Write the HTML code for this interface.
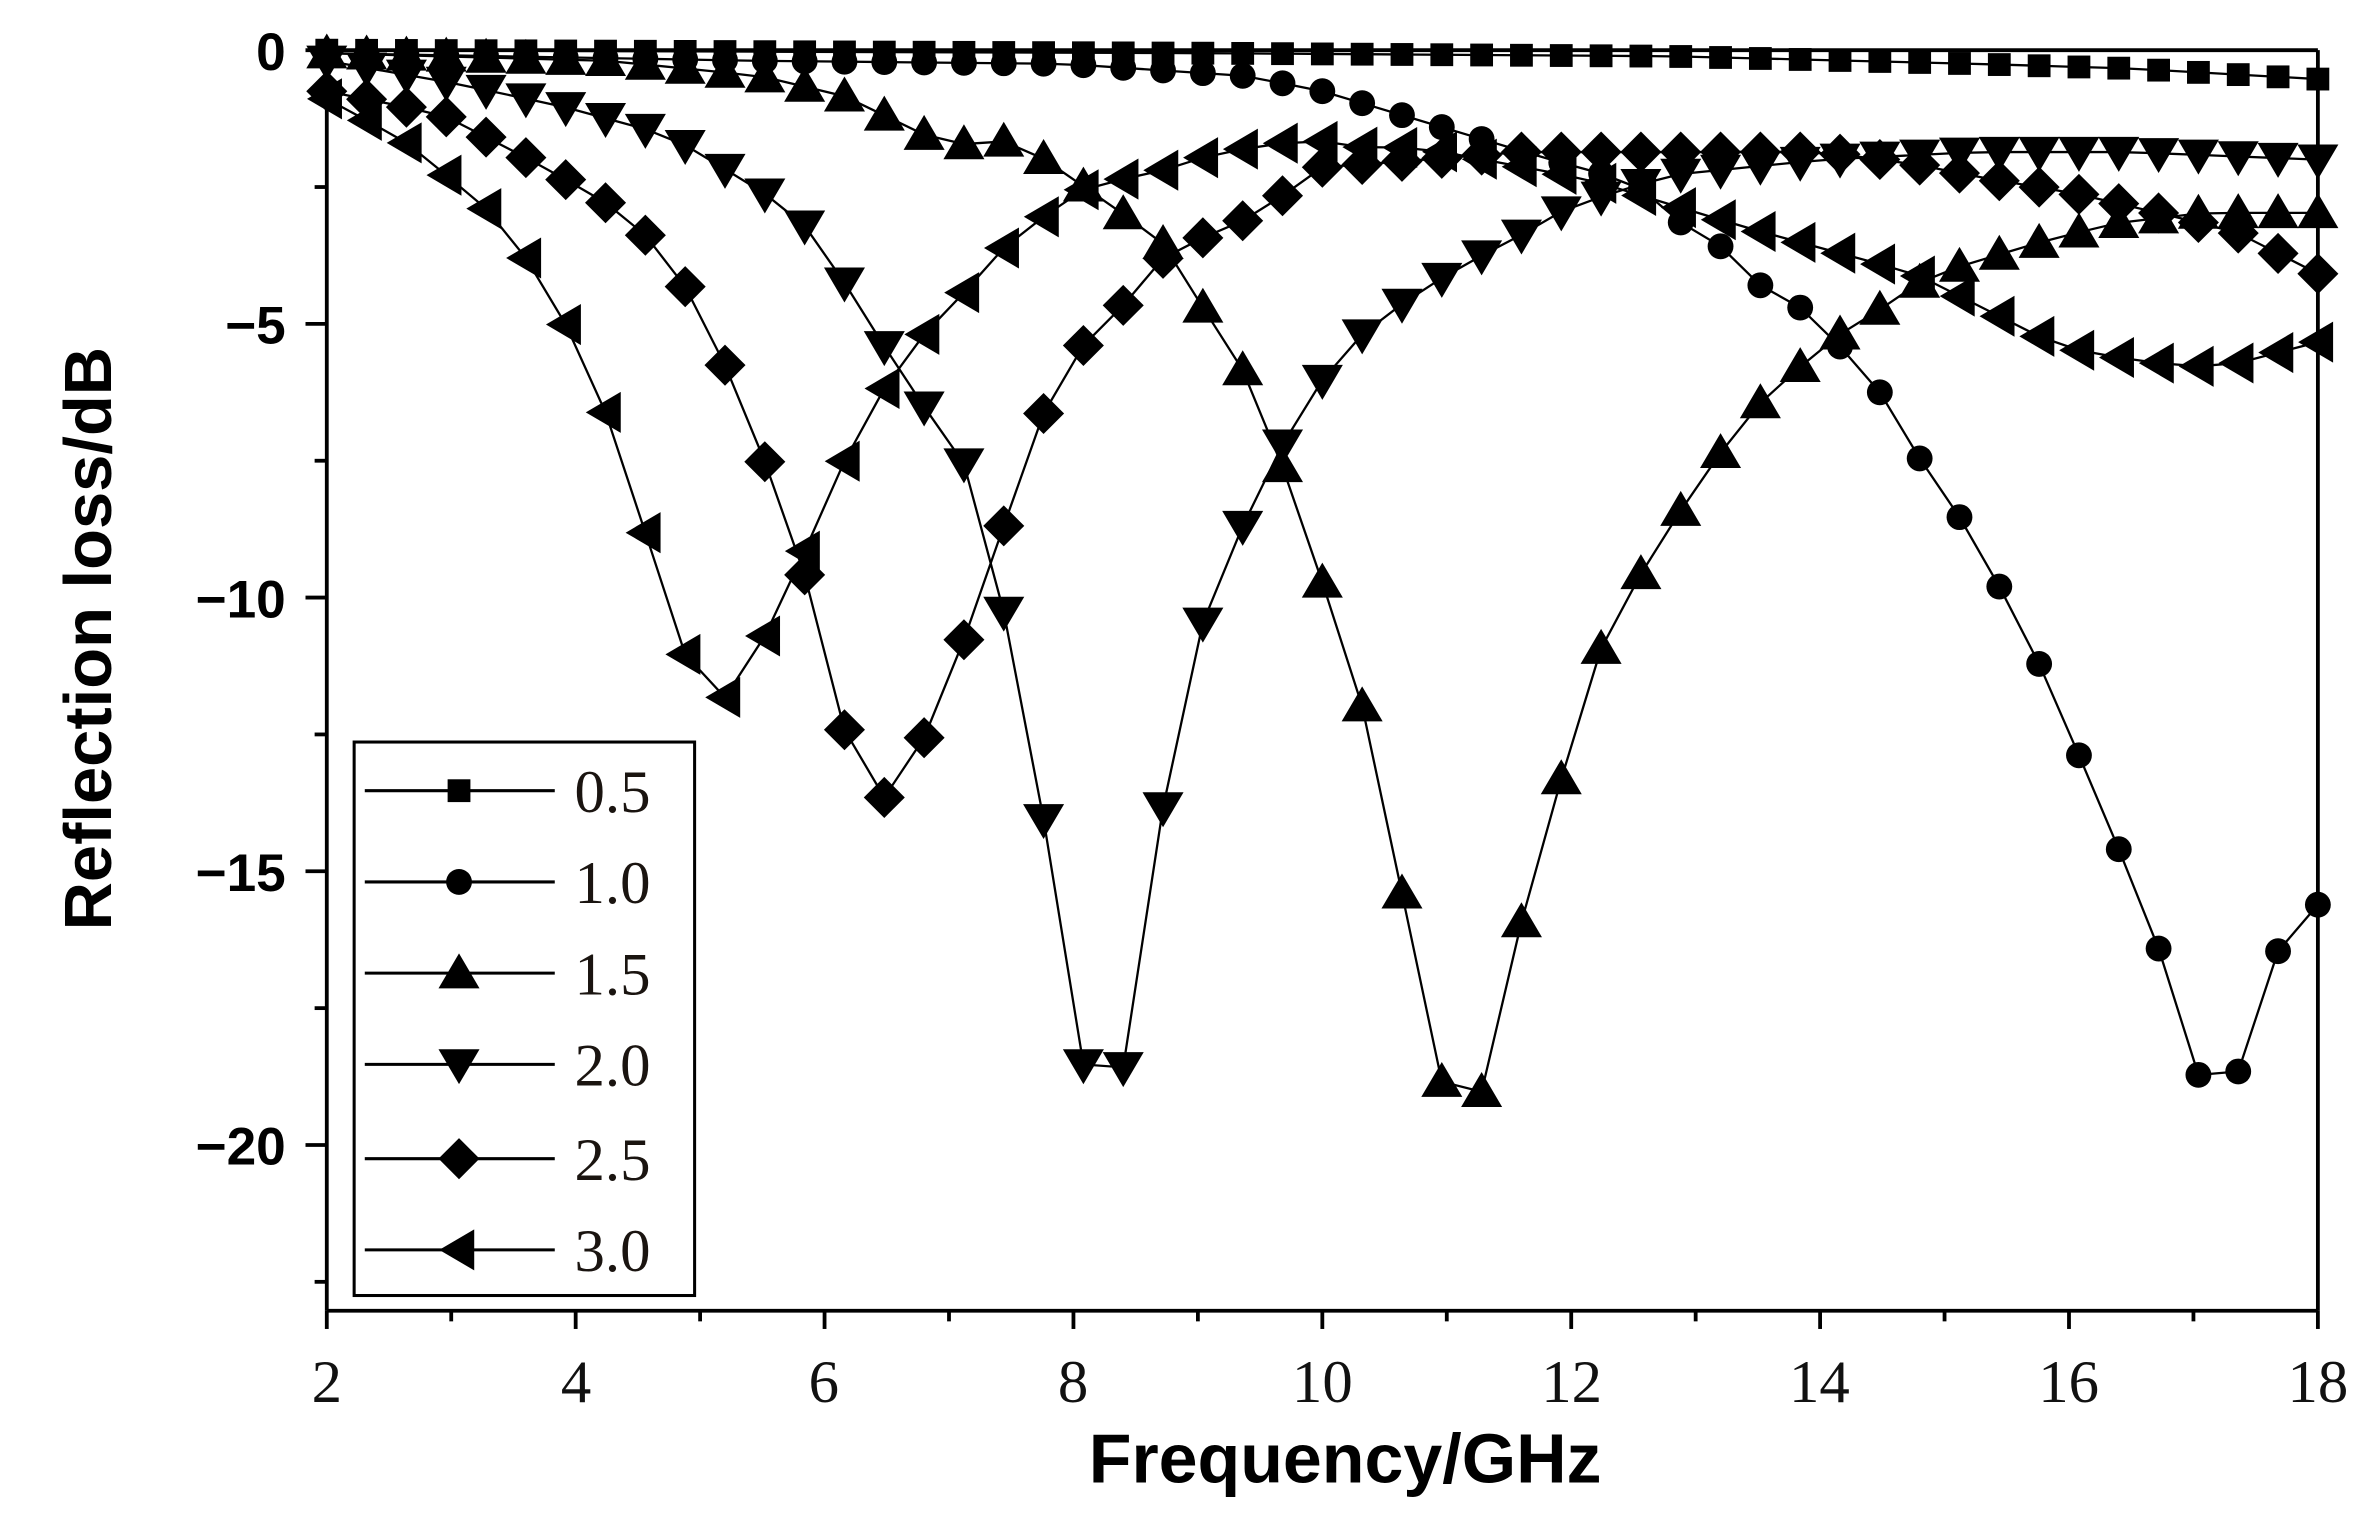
<!DOCTYPE html>
<html><head><meta charset="utf-8"><style>
html,body{margin:0;padding:0;background:#fff;}
svg{display:block;}
</style></head><body>
<svg id="s" width="2365" height="1516" viewBox="0 0 1556 997" preserveAspectRatio="none" xmlns="http://www.w3.org/2000/svg">
<rect x="0" y="0" width="1556" height="997" fill="#fff"/>
<g id="plot"></g>
<g id="axes" stroke="#000" stroke-width="2.5" fill="none">
<line x1="215" y1="33" x2="1525" y2="33"/>
<line x1="215" y1="33" x2="215" y2="862"/>
<line x1="1525" y1="33" x2="1525" y2="862"/>
<line x1="215" y1="862" x2="1525" y2="862"/>
</g>
<g id="ticks" stroke="#000" stroke-width="2.5"></g>
<g font-family="Liberation Sans, sans-serif" font-weight="bold" font-size="35" text-anchor="end" fill="#000">
<text x="188" y="46">0</text>
<text x="188" y="226">−5</text>
<text x="188" y="406">−10</text>
<text x="188" y="586">−15</text>
<text x="188" y="766">−20</text>
</g>
<g font-family="Liberation Serif, serif" font-size="40" text-anchor="middle" fill="#111">
<text x="215" y="922">2</text><text x="379" y="922">4</text><text x="542" y="922">6</text><text x="706" y="922">8</text>
<text x="870" y="922">10</text><text x="1034" y="922">12</text><text x="1197" y="922">14</text><text x="1361" y="922">16</text><text x="1525" y="922">18</text>
</g>
<text x="885" y="975" font-family="Liberation Sans, sans-serif" font-weight="bold" font-size="46" text-anchor="middle">Frequency/GHz</text>
<text transform="translate(73,420) rotate(-90)" font-family="Liberation Sans, sans-serif" font-weight="bold" font-size="44" text-anchor="middle">Reflection loss/dB</text>
<rect x="233" y="488" width="224" height="364" fill="#fff" stroke="#000" stroke-width="2"/>
<g id="legend"></g>
</svg>
<script>
var NS="http://www.w3.org/2000/svg";
function el(p,t,a){var e=document.createElementNS(NS,t);for(var k in a)e.setAttribute(k,a[k]);p.appendChild(e);return e;}
var ticks=document.getElementById('ticks');
for(var f=2;f<=18;f++){var x=215+81.875*(f-2);var L=(f%2==0)?12:7;el(ticks,'line',{x1:x,y1:862,x2:x,y2:862+L});}
for(var d=0;d>=-22.5;d-=2.5){var y=33-36*d;var L=(d%5==0)?14:8;el(ticks,'line',{x1:215,y1:y,x2:215-L,y2:y});}
var series=[
 ['sq',[[215,33],[800,35],[1100,37],[1300,42],[1400,45],[1525,52]]],
 ['ci',[[215,35],[500,40],[700,42],[820,50],[870,60],[920,75],[970,90],[1020,105],[1075,120],[1100,143],[1130,160],[1157,187],[1182,200],[1208,225],[1235,255],[1262,300],[1288,338],[1315,385],[1340,433],[1365,490],[1390,550],[1415,603],[1440,703],[1468,720],[1495,630],[1525,595]]],
 ['up',[[215,35],[400,40],[500,50],[555,63],[580,75],[606,88],[632,95],[658,92],[686,104],[712,122],[738,140],[765,160],[790,200],[818,244],[845,310],[870,383],[898,470],[925,600],[950,718],[975,718],[1000,610],[1025,520],[1050,433],[1078,380],[1103,340],[1128,303],[1155,268],[1180,245],[1207,222],[1232,207],[1260,187],[1290,175],[1340,160],[1390,147],[1450,140],[1525,140]]],
 ['dn',[[215,40],[300,55],[370,70],[425,85],[450,95],[500,125],[527,145],[555,185],[580,225],[606,265],[632,297],[658,390],[686,535],[712,700],[740,702],[765,532],[790,413],[818,345],[845,290],[870,250],[898,218],[925,198],[950,182],[975,168],[1000,155],[1025,140],[1060,127],[1100,115],[1200,105],[1300,100],[1400,100],[1525,105]]],
 ['di',[[215,60],[290,75],[343,102],[372,118],[398,133],[425,155],[450,187],[474,233],[500,295],[527,368],[552,473],[580,527],[606,490],[632,427],[660,347],[686,273],[712,228],[738,202],[765,170],[790,157],[818,145],[845,128],[870,110],[898,108],[950,104],[1000,100],[1100,100],[1200,100],[1260,108],[1310,118],[1360,126],[1420,140],[1470,152],[1525,180]]],
 ['le',[[215,65],[265,92],[318,135],[345,168],[372,213],[398,270],[423,345],[447,425],[474,463],[500,425],[527,368],[552,310],[580,258],[606,222],[632,195],[658,165],[686,143],[712,125],[738,118],[765,112],[790,104],[818,98],[845,94],[870,93],[898,97],[925,97],[950,100],[1045,118],[1150,150],[1260,180],[1355,228],[1410,238],[1460,242],[1525,225]]]
];
function interp(pts,x){for(var i=0;i<pts.length-1;i++){if(x>=pts[i][0]&&x<=pts[i+1][0]){var t=(x-pts[i][0])/(pts[i+1][0]-pts[i][0]);return pts[i][1]+t*(pts[i+1][1]-pts[i][1]);}}return pts[pts.length-1][1];}
function marker(p,type,x,y){
 if(type=='sq')el(p,'rect',{x:x-7.5,y:y-7.5,width:15,height:15,fill:'#000'});
 else if(type=='ci')el(p,'circle',{cx:x,cy:y,r:8.5,fill:'#000'});
 else if(type=='up')el(p,'polygon',{points:(x)+','+(y-13)+' '+(x-13.5)+','+(y+10)+' '+(x+13.5)+','+(y+10),fill:'#000'});
 else if(type=='dn')el(p,'polygon',{points:(x)+','+(y+13)+' '+(x-13.5)+','+(y-10)+' '+(x+13.5)+','+(y-10),fill:'#000'});
 else if(type=='di')el(p,'polygon',{points:x+','+(y-13.5)+' '+(x+13.5)+','+y+' '+x+','+(y+13.5)+' '+(x-13.5)+','+y,fill:'#000'});
 else if(type=='le')el(p,'polygon',{points:(x-13)+','+y+' '+(x+10)+','+(y-13.5)+' '+(x+10)+','+(y+13.5),fill:'#000'});
}
var plot=document.getElementById('plot');
series.forEach(function(s){
 var pts=[];for(var k=0;k<=50;k++){var x=215+26.2*k;if(x>1525)x=1525;pts.push([x,interp(s[1],x)]);}
 el(plot,'polyline',{points:pts.map(function(p){return p[0]+','+p[1]}).join(' '),fill:'none',stroke:'#000','stroke-width':1.5});
 pts.forEach(function(p){marker(plot,s[0],p[0],p[1]);});
});
var lg=document.getElementById('legend');
var labels=['0.5','1.0','1.5','2.0','2.5','3.0'];var ys=[520,580,640,700,762,822];
series.forEach(function(s,i){
 el(lg,'line',{x1:240,y1:ys[i],x2:365,y2:ys[i],stroke:'#000','stroke-width':2});
 marker(lg,s[0],302,ys[i]);
 var t=el(lg,'text',{x:378,y:ys[i]+14,'font-family':'Liberation Serif, serif','font-size':'40',fill:'#1a1410'});t.textContent=labels[i];
});
</script>
</body></html>
